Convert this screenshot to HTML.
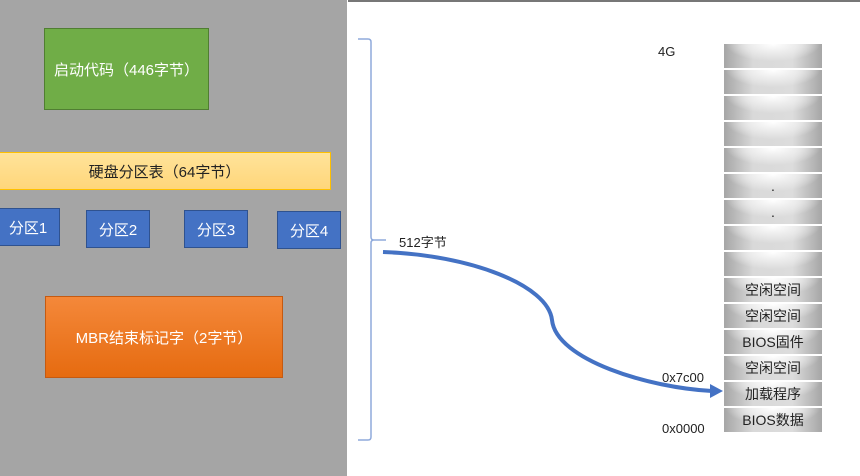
<!DOCTYPE html>
<html><head><meta charset="utf-8"><style>
body{margin:0;width:860px;height:476px;position:relative;overflow:hidden;background:#fff;font-family:"Liberation Sans","Noto Sans CJK SC",sans-serif;}
.a{position:absolute;box-sizing:border-box;display:flex;align-items:center;justify-content:center;}
.p{background:#4472c4;border:1px solid #2f528f;color:#fff;font-size:15px;height:38px;width:64px;}
.m{position:absolute;left:724px;width:98px;height:24px;background:radial-gradient(ellipse 60% 90% at 50% 0%,#fff 0%,#eee 35%,rgba(200,200,200,0) 80%),linear-gradient(90deg,#a6a6a6,#d9d9d9 30%,#dcdcdc 70%,#a6a6a6);font-size:14px;color:#222;text-align:center;line-height:24px;}
.t{position:absolute;font-size:13px;color:#222;}
</style></head><body>
<div style="position:absolute;left:0;top:0;width:347px;height:476px;background:#a5a5a5"></div>
<div style="position:absolute;left:348px;top:0;width:512px;height:2px;background:#777"></div>
<div class="a" style="left:44px;top:28px;width:165px;height:82px;background:#70ad47;border:1px solid #507e32;color:#fff;font-size:15px">启动代码（446字节）</div>
<div class="a" style="left:-2px;top:152px;width:333px;height:38px;background:linear-gradient(#ffe39a,#ffd67a);border:1px solid #ffc000;color:#222;font-size:15px">硬盘分区表（64字节）</div>
<div class="a p" style="left:-4px;top:208px;">分区1</div>
<div class="a p" style="left:86px;top:210px;">分区2</div>
<div class="a p" style="left:184px;top:210px;">分区3</div>
<div class="a p" style="left:277px;top:211px;">分区4</div>
<div class="a" style="left:45px;top:296px;width:238px;height:82px;background:linear-gradient(#f4883a,#e66b10);border:1px solid #c55a11;color:#fff;font-size:15px">MBR结束标记字（2字节）</div>
<svg style="position:absolute;left:0;top:0" width="860" height="476">
<path d="M358,39 L368,39 Q371,39 371,42 L371,237 Q371,240 374,240 L386,240 M374,240 Q371,240 371,243 L371,437 Q371,440 368,440 L358,440" fill="none" stroke="#8faadc" stroke-width="1.5"/>
<path d="M383,252 C470,255 548,285 552,320 C556,360 650,388 712,391" fill="none" stroke="#4472c4" stroke-width="4"/>
<polygon points="710,384 723,391 710,398" fill="#4472c4"/>
</svg>
<div class="t" style="left:399px;top:232px">512字节</div>
<div class="t" style="left:658px;top:44px">4G</div>
<div class="t" style="left:662px;top:370px">0x7c00</div>
<div class="t" style="left:662px;top:421px">0x0000</div>
<div class="m" style="top:44px"></div>
<div class="m" style="top:70px"></div>
<div class="m" style="top:96px"></div>
<div class="m" style="top:122px"></div>
<div class="m" style="top:148px"></div>
<div class="m" style="top:174px">.</div>
<div class="m" style="top:200px">.</div>
<div class="m" style="top:226px"></div>
<div class="m" style="top:252px"></div>
<div class="m" style="top:278px">空闲空间</div>
<div class="m" style="top:304px">空闲空间</div>
<div class="m" style="top:330px">BIOS固件</div>
<div class="m" style="top:356px">空闲空间</div>
<div class="m" style="top:382px">加载程序</div>
<div class="m" style="top:408px">BIOS数据</div>
</body></html>
